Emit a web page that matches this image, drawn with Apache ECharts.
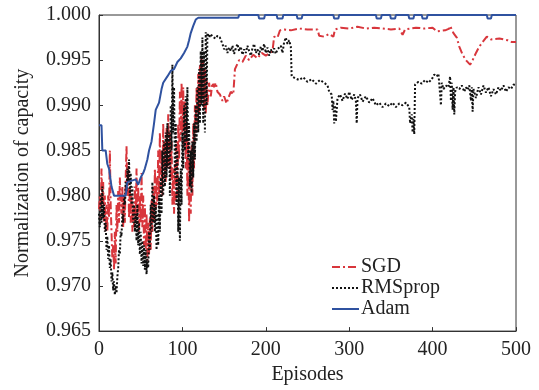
<!DOCTYPE html>
<html>
<head>
<meta charset="utf-8">
<script src="https://cdn.jsdelivr.net/npm/echarts@6/dist/echarts.min.js"></script>
<style>html,body{margin:0;padding:0;background:#fff}#c{width:539px;height:390px}</style>
</head>
<body>
<div id="c"></div>
<script>
const xTicks = [0, 100, 200, 300, 400, 500];
const yTicks = [0.965, 0.970, 0.975, 0.980, 0.985, 0.990, 0.995, 1.000];
const seriesNames = ['SGD', 'RMSprop', 'Adam'];

const sgd = [[0,0.9785],[1,0.9800],[2,0.9775],[3,0.9830],[4,0.9790],[5,0.9815],[6,0.9770],[7,0.9800],[8,0.9760],[9,0.9790],[10,0.9760],[11,0.9800],[12,0.9775],[13,0.9850],[14,0.9790],[15,0.9760],[16,0.9730],[17,0.9745],[18,0.9718],[19,0.9760],[20,0.9725],[21,0.9790],[22,0.9760],[23,0.9805],[24,0.9770],[25,0.9820],[26,0.9790],[27,0.9780],[28,0.9810],[29,0.9765],[30,0.9800],[31,0.9770],[32,0.9820],[33,0.9855],[34,0.9800],[35,0.9830],[36,0.9775],[37,0.9810],[38,0.9770],[39,0.9800],[40,0.9760],[41,0.9790],[42,0.9765],[43,0.9810],[44,0.9770],[45,0.9830],[46,0.9780],[47,0.9810],[48,0.9760],[49,0.9800],[50,0.9770],[51,0.9825],[52,0.9765],[53,0.9800],[54,0.9745],[55,0.9790],[56,0.9740],[57,0.9780],[58,0.9728],[59,0.9770],[60,0.9735],[61,0.9775],[62,0.9740],[63,0.9795],[64,0.9760],[65,0.9810],[66,0.9770],[67,0.9830],[68,0.9780],[69,0.9820],[70,0.9790],[71,0.9850],[72,0.9800],[73,0.9870],[74,0.9810],[75,0.9850],[76,0.9800],[77,0.9880],[78,0.9820],[79,0.9860],[80,0.9815],[81,0.9875],[82,0.9830],[83,0.9890],[84,0.9830],[85,0.9870],[86,0.9820],[87,0.9860],[88,0.9790],[89,0.9830],[90,0.9780],[91,0.9835],[92,0.9790],[93,0.9860],[94,0.9800],[95,0.9880],[96,0.9840],[97,0.9915],[98,0.9860],[99,0.9925],[100,0.9870],[101,0.9920],[102,0.9850],[103,0.9905],[104,0.9830],[105,0.9880],[106,0.9800],[107,0.9860],[108,0.9770],[109,0.9840],[110,0.9780],[111,0.9860],[112,0.9800],[113,0.9880],[114,0.9830],[115,0.9900],[116,0.9870],[117,0.9920],[118,0.9880],[119,0.9935],[120,0.9890],[121,0.9945],[122,0.9900],[123,0.9955],[124,0.9910],[125,0.9950],[126,0.9895],[127,0.9940],[128,0.9890],[129,0.9930],[130,0.9900],[132,0.9925],[134,0.9910],[136,0.9925],[138,0.9920],[140,0.9925],[142,0.9915],[145,0.9912],[148,0.9905],[150,0.9910],[153,0.9902],[155,0.9908],[158,0.9915],[161,0.9912],[163,0.9940],[165,0.9942],[168,0.9950],[172,0.9948],[176,0.9955],[180,0.9950],[185,0.9956],[190,0.9952],[195,0.9958],[200,0.9955],[205,0.9958],[208,0.9960],[210,0.9976],[214,0.9975],[217,0.9983],[222,0.9984],[230,0.9983],[240,0.9985],[250,0.9984],[262,0.9984],[264,0.9977],[270,0.9976],[276,0.9979],[281,0.9976],[283,0.9984],[290,0.9986],[300,0.9985],[310,0.9987],[320,0.9985],[330,0.9986],[340,0.9985],[350,0.9984],[360,0.9985],[364,0.9978],[367,0.9984],[380,0.9986],[390,0.9985],[400,0.9986],[405,0.9982],[415,0.9983],[420,0.9985],[421,0.9988],[425,0.9980],[429,0.9975],[432,0.9965],[436,0.9956],[440,0.9950],[445,0.9945],[448,0.9950],[452,0.9958],[456,0.9965],[460,0.9970],[465,0.9976],[470,0.9973],[480,0.9974],[490,0.9972],[495,0.9970],[500,0.9970]];

const rmsprop = [[0,0.9780],[1,0.9765],[2,0.9800],[3,0.9770],[4,0.9810],[5,0.9775],[6,0.9790],[7,0.9760],[8,0.9770],[9,0.9740],[10,0.9755],[11,0.9730],[12,0.9745],[13,0.9720],[14,0.9730],[15,0.9705],[16,0.9715],[17,0.9695],[18,0.9705],[19,0.9690],[20,0.9700],[21,0.9692],[22,0.9710],[23,0.9720],[24,0.9740],[25,0.9735],[26,0.9760],[27,0.9755],[28,0.9780],[29,0.9770],[30,0.9800],[31,0.9790],[32,0.9815],[33,0.9805],[34,0.9830],[35,0.9815],[36,0.9840],[37,0.9800],[38,0.9825],[39,0.9790],[40,0.9810],[41,0.9770],[42,0.9790],[43,0.9760],[44,0.9780],[45,0.9750],[46,0.9790],[47,0.9745],[48,0.9770],[49,0.9735],[50,0.9760],[51,0.9725],[52,0.9750],[53,0.9722],[54,0.9745],[55,0.9718],[56,0.9740],[57,0.9713],[58,0.9730],[59,0.9720],[60,0.9760],[61,0.9740],[62,0.9790],[63,0.9760],[64,0.9815],[65,0.9770],[66,0.9800],[67,0.9760],[68,0.9790],[69,0.9740],[70,0.9780],[71,0.9745],[72,0.9800],[73,0.9760],[74,0.9820],[75,0.9780],[76,0.9850],[77,0.9800],[78,0.9860],[79,0.9810],[80,0.9870],[81,0.9820],[82,0.9880],[83,0.9830],[84,0.9870],[85,0.9800],[86,0.9900],[87,0.9850],[88,0.9945],[89,0.9870],[90,0.9920],[91,0.9820],[92,0.9880],[93,0.9790],[94,0.9850],[95,0.9760],[96,0.9820],[97,0.9750],[98,0.9830],[99,0.9790],[100,0.9870],[101,0.9830],[102,0.9900],[103,0.9850],[104,0.9910],[105,0.9860],[106,0.9920],[107,0.9840],[108,0.9880],[109,0.9810],[110,0.9850],[111,0.9803],[112,0.9860],[113,0.9820],[114,0.9880],[115,0.9840],[116,0.9900],[117,0.9860],[118,0.9920],[119,0.9870],[120,0.9940],[121,0.9880],[122,0.9960],[123,0.9900],[124,0.9975],[125,0.9880],[126,0.9960],[127,0.9870],[128,0.9981],[129,0.9900],[130,0.9980],[132,0.9975],[134,0.9979],[136,0.9976],[138,0.9978],[140,0.9974],[142,0.9977],[145,0.9975],[148,0.9968],[150,0.9962],[152,0.9966],[154,0.9958],[156,0.9964],[158,0.9960],[160,0.9966],[162,0.9957],[164,0.9963],[166,0.9968],[168,0.9960],[170,0.9965],[172,0.9956],[174,0.9962],[176,0.9958],[178,0.9966],[180,0.9960],[182,0.9955],[184,0.9963],[186,0.9968],[188,0.9958],[190,0.9962],[192,0.9956],[194,0.9965],[196,0.9960],[198,0.9968],[200,0.9958],[202,0.9964],[204,0.9955],[206,0.9962],[208,0.9958],[210,0.9963],[212,0.9957],[214,0.9962],[216,0.9960],[218,0.9966],[220,0.9958],[222,0.9970],[224,0.9975],[226,0.9968],[228,0.9972],[230,0.9965],[231,0.9932],[235,0.9930],[240,0.9928],[245,0.9931],[250,0.9926],[255,0.9929],[260,0.9924],[265,0.9928],[270,0.9925],[274,0.9922],[276,0.9915],[279,0.9912],[280,0.9895],[281,0.9905],[282,0.9880],[283,0.9900],[284,0.9882],[286,0.9908],[289,0.9912],[292,0.9905],[295,0.9913],[298,0.9907],[300,0.9915],[303,0.9906],[306,0.9912],[308,0.9905],[309,0.9880],[310,0.9908],[313,0.9912],[316,0.9904],[320,0.9910],[324,0.9903],[328,0.9908],[332,0.9900],[336,0.9903],[340,0.9898],[344,0.9902],[348,0.9899],[352,0.9903],[356,0.9898],[360,0.9902],[364,0.9900],[368,0.9903],[372,0.9898],[373,0.9880],[375,0.9890],[376,0.9870],[377,0.9885],[378,0.9868],[379,0.9923],[383,0.9926],[387,0.9924],[391,0.9928],[395,0.9925],[399,0.9929],[402,0.9934],[405,0.9932],[407,0.9935],[409,0.9912],[410,0.9900],[411,0.9925],[413,0.9918],[416,0.9922],[419,0.9920],[421,0.9932],[422,0.9905],[423,0.9925],[424,0.9895],[425,0.9920],[426,0.9890],[427,0.9915],[429,0.9920],[432,0.9918],[435,0.9922],[438,0.9915],[440,0.9920],[442,0.9917],[444,0.9922],[446,0.9905],[447,0.9920],[448,0.9893],[449,0.9918],[452,0.9908],[455,0.9920],[458,0.9912],[461,0.9922],[464,0.9914],[467,0.9920],[470,0.9910],[473,0.9918],[476,0.9912],[479,0.9920],[482,0.9916],[485,0.9922],[488,0.9915],[491,0.9920],[494,0.9918],[497,0.9923],[500,0.9922]];

const adam = [[0,0.9878],[3,0.9878],[4,0.9850],[8,0.9850],[10,0.9835],[12,0.9830],[15,0.9810],[18,0.9800],[32,0.9800],[34,0.9815],[44,0.9818],[47,0.9812],[50,0.9820],[53,0.9825],[55,0.9830],[58,0.9840],[60,0.9850],[63,0.9860],[66,0.9880],[68,0.9895],[72,0.9903],[75,0.9918],[77,0.9925],[82,0.9932],[86,0.9938],[90,0.9940],[94,0.9948],[98,0.9952],[102,0.9958],[106,0.9965],[108,0.9972],[110,0.9980],[113,0.9988],[116,0.9995],[119,0.9997],[167,0.9997],[168,1.0],[191,1.0],[192,0.9996],[198,0.9996],[199,1.0],[213,1.0],[214,0.9996],[220,0.9996],[221,1.0],[237,1.0],[238,0.9996],[243,0.9996],[244,1.0],[281,1.0],[282,0.9996],[287,0.9996],[288,1.0],[332,1.0],[333,0.9996],[338,0.9996],[339,1.0],[349,1.0],[350,0.9996],[355,0.9996],[356,1.0],[371,1.0],[372,0.9996],[377,0.9996],[378,1.0],[387,1.0],[388,0.9996],[393,0.9996],[394,1.0],[465,1.0],[466,0.9996],[470,0.9996],[471,1.0],[500,1.0]];

const font = 'Liberation Serif, Times New Roman, serif';
const chart = echarts.init(document.getElementById('c'), null, {renderer: 'canvas'});
chart.setOption({
  animation: false,
  backgroundColor: '#fff',
  grid: {left: 99, right: 23, top: 15, bottom: 58, show: true, borderColor: '#333', borderWidth: 1, backgroundColor: 'transparent'},
  legend: {
    orient: 'vertical', left: 331, top: 257, itemWidth: 27, itemHeight: 14, itemGap: 1, padding: 0,
    data: seriesNames,
    itemStyle: {opacity: 0},
    textStyle: {fontFamily: font, fontSize: 20, color: '#222', padding: [0,0,0,-3]}
  },
  xAxis: {
    type: 'value', min: xTicks[0], max: xTicks[xTicks.length-1], interval: 100,
    name: 'Episodes', nameLocation: 'middle', nameGap: 33,
    nameTextStyle: {fontFamily: font, fontSize: 20, color: '#222'},
    axisLine: {lineStyle: {color: '#333'}},
    axisTick: {inside: true, length: 4, lineStyle: {color: '#333'}},
    axisLabel: {fontFamily: font, fontSize: 20, color: '#222', margin: 9},
    splitLine: {show: false}
  },
  yAxis: {
    type: 'value', min: yTicks[0], max: yTicks[yTicks.length-1], interval: 0.005,
    name: 'Normalization of capacity', nameLocation: 'middle', nameGap: 66,
    nameTextStyle: {fontFamily: font, fontSize: 20, color: '#222'},
    axisLine: {lineStyle: {color: '#333'}},
    axisTick: {inside: true, length: 4, lineStyle: {color: '#333'}},
    axisLabel: {fontFamily: font, fontSize: 20, color: '#222', margin: 8, formatter: v => v.toFixed(3)},
    splitLine: {show: false}
  },
  series: [
    {name: seriesNames[0], type: 'line', data: sgd, symbol: 'none', color: '#d8363c',
     lineStyle: {width: 2, color: '#d8363c', type: [8, 3, 2, 3]}},
    {name: seriesNames[1], type: 'line', data: rmsprop, symbol: 'none', color: '#111',
     lineStyle: {width: 2, color: '#111', type: [2, 2]}},
    {name: seriesNames[2], type: 'line', data: adam, symbol: 'none', color: '#2f52a0',
     lineStyle: {width: 2, color: '#2f52a0', type: 'solid'}}
  ]
});
</script>
</body>
</html>
